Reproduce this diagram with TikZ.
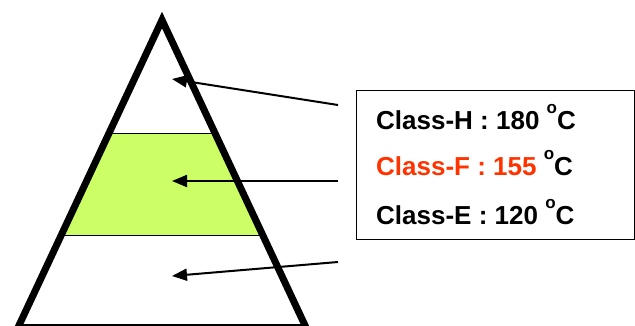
\documentclass[tikz,border=0pt]{standalone}
\usepackage{fontspec}
\setmainfont{Liberation Sans}
\usetikzlibrary{arrows.meta,calc}
\definecolor{bandgreen}{HTML}{CCFF66}
\definecolor{classred}{HTML}{FF3300}
\newcommand{\degsign}{\raisebox{0.62em}{\fontsize{17}{17}\selectfont o}}
\tikzset{
  classlabel/.style={anchor=west, inner sep=0pt, font=\fontsize{26}{30}\selectfont\bfseries},
  pointer/.style={line width=2pt, -{Triangle[length=15pt,width=12pt]}}
}
\begin{document}
\begin{tikzpicture}[x=1pt,y=1pt]
    % Frame of the picture
    \useasboundingbox (0,0) rectangle (635,325);

    % Corners of the triangle
    \coordinate (apex) at (162,305);
    \coordinate (bl) at (18,-2.5);
    \coordinate (br) at (306,-2.5);

    % Band limits on the sides
    \coordinate (hl) at ($(apex)!0.37!(bl)$);
    \coordinate (hr) at ($(apex)!0.37!(br)$);
    \coordinate (el) at ($(apex)!0.70!(bl)$);
    \coordinate (er) at ($(apex)!0.70!(br)$);

    % Middle band (Class-F)
    \fill[bandgreen] (hl) -- (hr) -- (er) -- (el) -- cycle;
    \draw[line width=1.2pt] (hl) -- (hr);
    \draw[line width=1.2pt] (el) -- (er);

    % Outline of the triangle
    \draw[line width=7pt, line join=miter] (apex) -- (br) -- (bl) -- cycle;

    % Box with the classes
    \node[draw, line width=1.2pt, minimum width=278pt, minimum height=149pt, inner sep=0pt, anchor=north west] (legend) at (356,235) {};
    \node[classlabel] (classH) at (376,208) {Class-H : 180 \degsign C};
    \node[classlabel] (classF) at (376,162) {\textcolor{classred}{Class-F : 155} \degsign C};
    \node[classlabel] (classE) at (376,113) {Class-E : 120 \degsign C};

    % Ends of the arrows
    \coordinate (startH) at (338,220);
    \coordinate (startF) at (338,144);
    \coordinate (startE) at (338,63);
    \coordinate (tipH) at (172,246);
    \coordinate (tipF) at (172,144);
    \coordinate (tipE) at (172,49);

    % Arrows into the bands
    \draw[pointer] (startH) -- (tipH);
    \draw[pointer] (startF) -- (tipF);
    \draw[pointer] (startE) -- (tipE);
\end{tikzpicture}
\end{document}
